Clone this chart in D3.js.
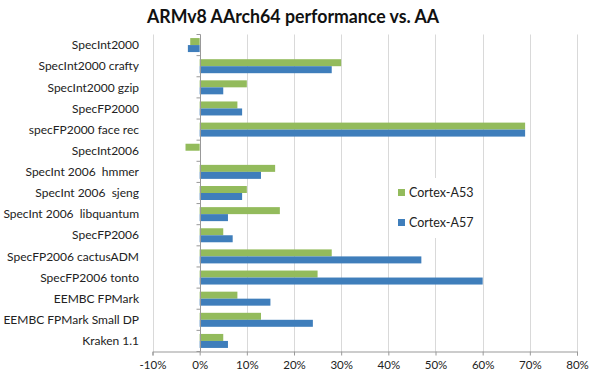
<!DOCTYPE html>
<html>
<head>
<meta charset="utf-8">
<script src="https://cdn.jsdelivr.net/npm/d3@7"></script>
<style>
  body { margin: 0; background: #fff; }
  svg { font-family: "Lato", "Open Sans", sans-serif; }
  .grid line { stroke: #d9d9d9; stroke-width: 1; }
  .ylab { font-size: 12px; fill: #222; }
  .xlab { font-size: 11.5px; fill: #222; }
  .legend { font-size: 12.5px; fill: #222; }
</style>
</head>
<body>
<script>
// benchmarks, top to bottom
const categories = [
  'SpecInt2000', 'SpecInt2000 crafty', 'SpecInt2000 gzip', 'SpecFP2000',
  'specFP2000 face rec', 'SpecInt2006', 'SpecInt 2006  hmmer', 'SpecInt 2006  sjeng',
  'SpecInt 2006  libquantum', 'SpecFP2006', 'SpecFP2006 cactusADM', 'SpecFP2006 tonto',
  'EEMBC FPMark', 'EEMBC FPMark Small DP', 'Kraken 1.1'
]
// percent gain vs AArch32
const a53 = [-2, 30, 10, 8, 69, -3, 16, 10, 17, 5, 28, 25, 8, 13, 5]
const a57 = [-2.5, 28, 5, 9, 69, 0, 13, 9, 6, 7, 47, 60, 15, 24, 6]
const xTicks = [-10, 0, 10, 20, 30, 40, 50, 60, 70, 80]
const seriesNames = ['Cortex-A53', 'Cortex-A57']

const GREEN = '#93bb5c'
const BLUE = '#3f7ebb'

const width = 592, height = 376
const svg = d3.select('body').append('svg')
  .attr('width', width)
  .attr('height', height)

svg.append('text')
  .attr('x', 147)
  .attr('y', 23)
  .attr('textLength', 292)
  .attr('lengthAdjust', 'spacingAndGlyphs')
  .style('font-size', '18px')
  .style('font-weight', 'bold')
  .style('fill', '#111')
  .text('ARMv8 AArch64 performance vs. AA')

const x = d3.scaleLinear().domain([-10, 80]).range([152.5, 577])
const y = d3.scaleBand().domain(categories).range([34.5, 351.5])
const bandH = y.bandwidth()
const barH = 7

// vertical gridlines
svg.append('g').attr('class', 'grid')
  .selectAll('line')
  .data(xTicks.filter(d => d !== 0))
  .enter().append('line')
    .attr('x1', d => Math.round(x(d)) + 0.5)
    .attr('x2', d => Math.round(x(d)) + 0.5)
    .attr('y1', 34.5)
    .attr('y2', 351.5)

// bars
const rows = svg.append('g')
  .selectAll('g')
  .data(categories.map((c, i) => ({ c, v: [a53[i], a57[i]] })))
  .enter().append('g')
    .attr('transform', d => 'translate(0,' + (y(d.c) + bandH / 2) + ')')

rows.selectAll('rect')
  .data(d => d.v)
  .enter().append('rect')
    .attr('x', d => x(Math.min(0, d)))
    .attr('width', d => Math.abs(x(d) - x(0)))
    .attr('y', (d, i) => i === 0 ? -barH : 0)
    .attr('height', barH)
    .attr('fill', (d, i) => i === 0 ? GREEN : BLUE)

// x axis
const xAxis = svg.append('g')
  .attr('transform', 'translate(0,' + 351.5 + ')')
  .call(d3.axisBottom(x).tickValues(xTicks).tickSize(4).tickFormat(d => d + '%'))
xAxis.select('.domain').attr('stroke', '#999')
xAxis.selectAll('.tick line').attr('stroke', '#999')
xAxis.selectAll('text').attr('class', 'xlab').attr('dy', '0.95em')
xAxis.attr('font-size', null).attr('font-family', null)

// y axis at zero
const yAxis = svg.append('g')
  .attr('transform', 'translate(' + (Math.round(x(0)) + 0.5) + ',0)')
yAxis.append('line')
  .attr('y1', 34.5).attr('y2', 351.5)
  .attr('stroke', '#999')
yAxis.selectAll('line.tk')
  .data(d3.range(categories.length + 1))
  .enter().append('line')
    .attr('class', 'tk')
    .attr('x1', -4).attr('x2', 0)
    .attr('y1', i => 34.5 + i * bandH)
    .attr('y2', i => 34.5 + i * bandH)
    .attr('stroke', '#999')

// category labels
svg.append('g')
  .selectAll('text')
  .data(categories)
  .enter().append('text')
    .attr('class', 'ylab')
    .attr('x', 139)
    .attr('y', d => y(d) + bandH / 2)
    .attr('dy', '0.35em')
    .attr('text-anchor', 'end')
    .style('white-space', 'pre')
    .text(d => d)

// legend
const legend = svg.append('g').attr('class', 'legend')
legend.append('rect')
  .attr('x', 396).attr('y', 178).attr('width', 86).attr('height', 60)
  .attr('fill', '#fff')
const legendRows = legend.selectAll('g')
  .data(seriesNames)
  .enter().append('g')
    .attr('transform', (d, i) => 'translate(398,' + (193 + i * 30) + ')')
legendRows.append('rect')
  .attr('x', 0).attr('y', -4).attr('width', 7).attr('height', 7)
  .attr('fill', (d, i) => i === 0 ? GREEN : BLUE)
legendRows.append('text')
  .attr('x', 11).attr('y', 0).attr('dy', '0.35em')
  .text(d => d)
</script>
</body>
</html>
